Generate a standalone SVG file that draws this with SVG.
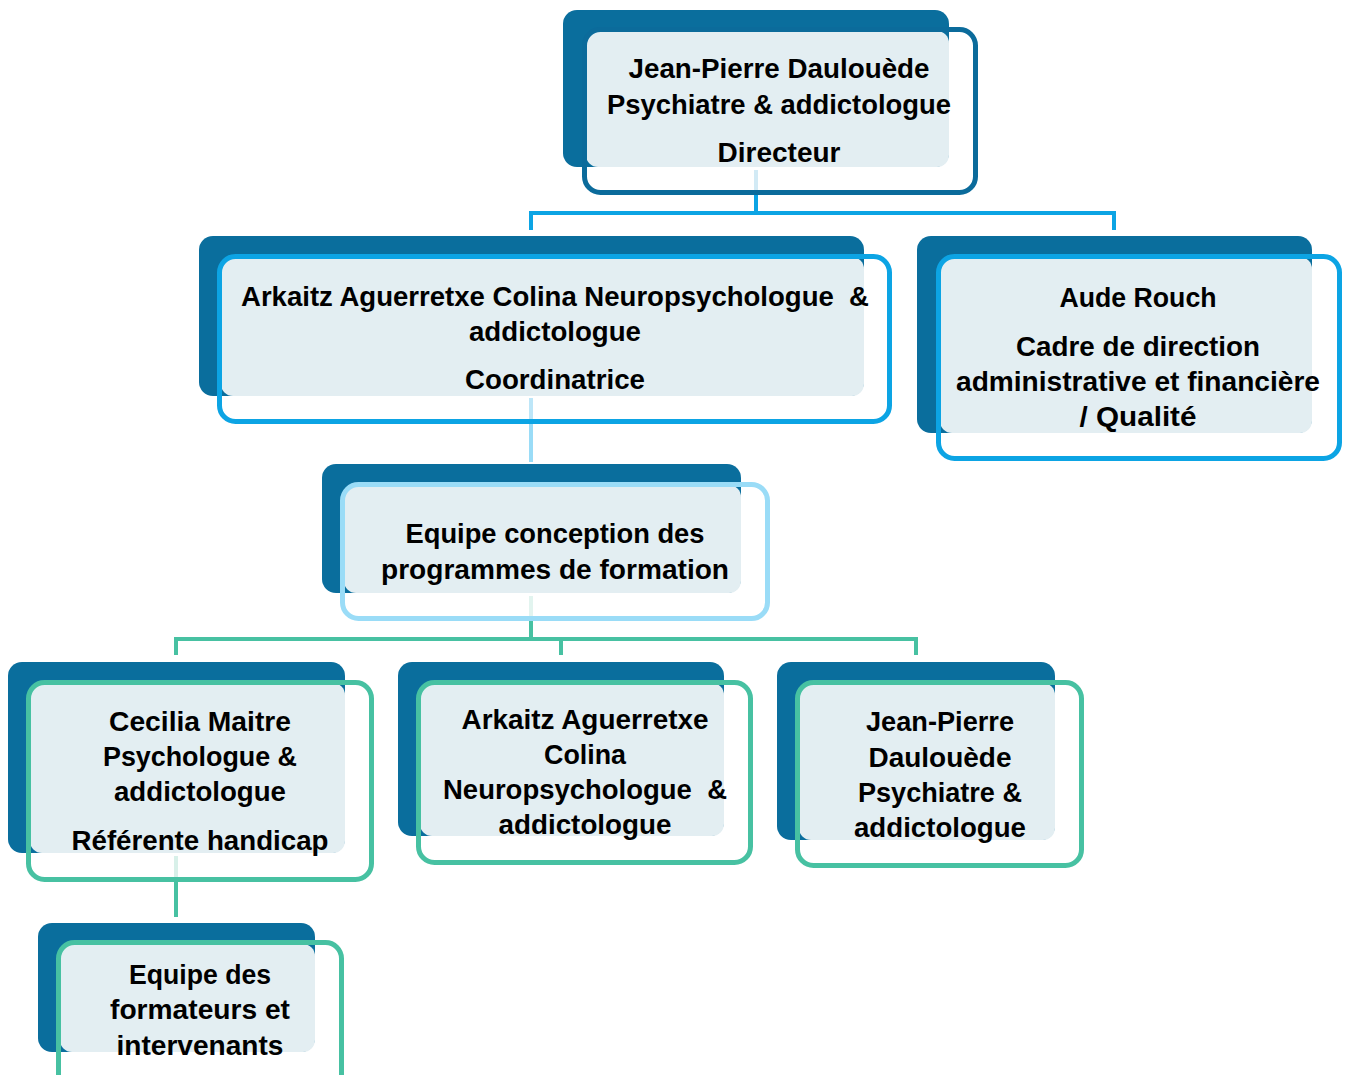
<svg xmlns="http://www.w3.org/2000/svg" width="1348" height="1075" viewBox="0 0 1348 1075">
<style>
.dark{fill:#0A6E9D}
.light{fill:#E3EEF2}
.box{fill:none;stroke-width:5}
.l1{stroke:#0B6B9B}
.l2{stroke:#0CA4E4}
.l3{stroke:#9ADCF7}
.l4{stroke:#47C1A2}
.t{font-family:"Liberation Sans",Arial,sans-serif;font-weight:bold;font-size:27px;fill:#000;text-anchor:middle;white-space:pre}
.c{fill:none;stroke-width:4}
</style>
<g id="connectors">
<path class="c" stroke="#D2EAF5" d="M756 170V191"/>
<path class="c" stroke="#0CA4E4" d="M756 191V213M531 230V213H1114V230"/>
<path class="c" stroke="#BDE6F8" d="M531 398V421"/>
<path class="c" stroke="#9ADCF7" d="M531 421V462"/>
<path class="c" stroke="#E2F4EF" d="M531 596V618"/>
<path class="c" stroke="#47C1A2" d="M531 618V639M176 655V639H916V655M561 639V655"/>
<path class="c" stroke="#D8F0E9" d="M176 856V879"/>
<path class="c" stroke="#47C1A2" d="M176 879V917"/>
</g>
<g id="node-director">
<rect class="dark" x="563" y="10" width="386" height="157" rx="14"/>
<rect class="light" x="586" y="31" width="363" height="136" rx="12"/>
<rect class="box l1" x="584.5" y="29.5" width="391" height="163" rx="16"/>
<text class="t" x="779" y="78" textLength="301" lengthAdjust="spacingAndGlyphs">Jean-Pierre Daulouède</text>
<text class="t" x="779" y="114" textLength="344" lengthAdjust="spacingAndGlyphs">Psychiatre &amp; addictologue</text>
<text class="t" x="779" y="162" textLength="123" lengthAdjust="spacingAndGlyphs">Directeur</text>
</g>
<g id="node-coordinatrice">
<rect class="dark" x="199" y="236" width="665" height="160" rx="14"/>
<rect class="light" x="221" y="257" width="643" height="139" rx="12"/>
<rect class="box l2" x="219.5" y="256.5" width="670" height="165" rx="16"/>
<text class="t" x="555" y="306" textLength="628" lengthAdjust="spacingAndGlyphs">Arkaitz Aguerretxe Colina Neuropsychologue  &amp;</text>
<text class="t" x="555" y="341" textLength="172" lengthAdjust="spacingAndGlyphs">addictologue</text>
<text class="t" x="555" y="389" textLength="180" lengthAdjust="spacingAndGlyphs">Coordinatrice</text>
</g>
<g id="node-aude">
<rect class="dark" x="917" y="236" width="395" height="197" rx="14"/>
<rect class="light" x="940" y="257" width="372" height="176" rx="12"/>
<rect class="box l2" x="938.5" y="256.5" width="401" height="202" rx="16"/>
<text class="t" x="1138" y="307" textLength="157" lengthAdjust="spacingAndGlyphs">Aude Rouch</text>
<text class="t" x="1138" y="356" textLength="244" lengthAdjust="spacingAndGlyphs">Cadre de direction</text>
<text class="t" x="1138" y="391" textLength="364" lengthAdjust="spacingAndGlyphs">administrative et financière</text>
<text class="t" x="1138" y="426" textLength="117" lengthAdjust="spacingAndGlyphs">/ Qualité</text>
</g>
<g id="node-equipe-conception">
<rect class="dark" x="322" y="464" width="419" height="129" rx="14"/>
<rect class="light" x="344" y="485" width="397" height="108" rx="12"/>
<rect class="box l3" x="342.5" y="484.5" width="425" height="134" rx="16"/>
<text class="t" x="555" y="543" textLength="299" lengthAdjust="spacingAndGlyphs">Equipe conception des</text>
<text class="t" x="555" y="579" textLength="348" lengthAdjust="spacingAndGlyphs">programmes de formation</text>
</g>
<g id="node-cecilia">
<rect class="dark" x="8" y="662" width="337" height="191" rx="14"/>
<rect class="light" x="30" y="683" width="315" height="170" rx="12"/>
<rect class="box l4" x="28.5" y="682.5" width="343" height="197" rx="16"/>
<text class="t" x="200" y="731" textLength="182" lengthAdjust="spacingAndGlyphs">Cecilia Maitre</text>
<text class="t" x="200" y="766" textLength="194" lengthAdjust="spacingAndGlyphs">Psychologue &amp;</text>
<text class="t" x="200" y="801" textLength="172" lengthAdjust="spacingAndGlyphs">addictologue</text>
<text class="t" x="200" y="850" textLength="257" lengthAdjust="spacingAndGlyphs">Référente handicap</text>
</g>
<g id="node-arkaitz">
<rect class="dark" x="398" y="662" width="326" height="174" rx="14"/>
<rect class="light" x="420" y="683" width="304" height="153" rx="12"/>
<rect class="box l4" x="418.5" y="682.5" width="332" height="180" rx="16"/>
<text class="t" x="585" y="729" textLength="247" lengthAdjust="spacingAndGlyphs">Arkaitz Aguerretxe</text>
<text class="t" x="585" y="764" textLength="82" lengthAdjust="spacingAndGlyphs">Colina</text>
<text class="t" x="585" y="799" textLength="284" lengthAdjust="spacingAndGlyphs">Neuropsychologue  &amp;</text>
<text class="t" x="585" y="834" textLength="173" lengthAdjust="spacingAndGlyphs">addictologue</text>
</g>
<g id="node-jean-pierre">
<rect class="dark" x="777" y="662" width="278" height="178" rx="14"/>
<rect class="light" x="799" y="683" width="256" height="157" rx="12"/>
<rect class="box l4" x="797.5" y="682.5" width="284" height="183" rx="16"/>
<text class="t" x="940" y="731" textLength="148" lengthAdjust="spacingAndGlyphs">Jean-Pierre</text>
<text class="t" x="940" y="767" textLength="143" lengthAdjust="spacingAndGlyphs">Daulouède</text>
<text class="t" x="940" y="802" textLength="164" lengthAdjust="spacingAndGlyphs">Psychiatre &amp;</text>
<text class="t" x="940" y="837" textLength="172" lengthAdjust="spacingAndGlyphs">addictologue</text>
</g>
<g id="node-formateurs">
<rect class="dark" x="38" y="923" width="277" height="129" rx="14"/>
<rect class="light" x="60" y="944" width="255" height="108" rx="12"/>
<rect class="box l4" x="58.5" y="942.5" width="283" height="150" rx="16"/>
<text class="t" x="200" y="984" textLength="142" lengthAdjust="spacingAndGlyphs">Equipe des</text>
<text class="t" x="200" y="1019" textLength="180" lengthAdjust="spacingAndGlyphs">formateurs et</text>
<text class="t" x="200" y="1055" textLength="167" lengthAdjust="spacingAndGlyphs">intervenants</text>
</g>
</svg>
